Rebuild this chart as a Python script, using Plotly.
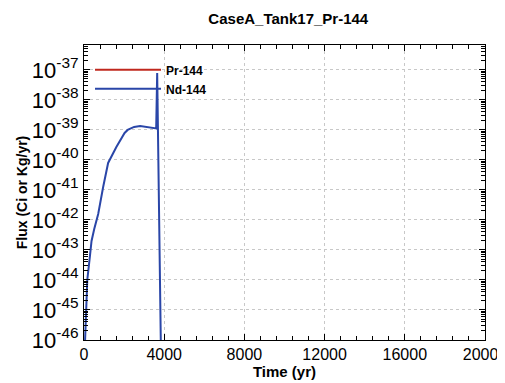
import plotly.graph_objects as go

title = "CaseA_Tank17_Pr-144"

# Nd-144 flux curve (time in yr, flux in Ci or Kg/yr)
nd_time = [0, 84, 163, 297, 376, 510, 708, 955, 1203, 1614, 2025, 2178, 2500, 2800, 3100, 3400, 3600, 3650, 3700, 3780, 3850]
nd_flux = [1e-47, 1e-45, 1e-44, 10**-43.2, 10**-42.7, 10**-42.3, 10**-41.8, 10**-40.9, 10**-40.1,
           10**-39.57, 10**-39.1, 10**-39.0, 10**-38.9, 10**-38.87, 10**-38.9, 10**-38.92, 10**-38.95,
           10**-37.1, 10**-39.5, 10**-43.5, 1e-47]

# Pr-144 is below the displayed range
pr_time = [0, 20000]
pr_flux = [1e-60, 1e-60]

xticks = [0, 4000, 8000, 12000, 16000, 20000]
y_decades = [-46, -45, -44, -43, -42, -41, -40, -39, -38, -37]
y_ticktext = ["10<sup>%d</sup>" % d for d in y_decades]

font = "Liberation Sans, Arial, sans-serif"

major_y = [10.0 ** d for d in y_decades]
minor_y = [m * 10.0 ** d for d in y_decades for m in range(2, 10)]

fig = go.Figure()
fig.add_trace(go.Scatter(x=pr_time, y=pr_flux, mode="lines", name="Pr-144",
                         line=dict(color="#c0281e", width=2)))
fig.add_trace(go.Scatter(x=nd_time, y=nd_flux, mode="lines", name="Nd-144",
                         line=dict(color="#2a46a8", width=2)))

fig.update_layout(
    width=505, height=383,
    margin=dict(l=76, r=28, t=37, b=51),
    paper_bgcolor="white", plot_bgcolor="white",
    title=dict(text="<b>" + title + "</b>", x=0.555, xanchor="center", y=0.973, yanchor="middle",
               font=dict(family=font, size=15, color="black")),
    font=dict(family=font, color="black"),
    showlegend=True,
    legend=dict(x=0.015, y=0.965, xanchor="left", yanchor="top", bgcolor="rgba(0,0,0,0)",
                font=dict(family=font, size=12, color="black", weight="bold"),
                tracegroupgap=0, itemwidth=66),
)

fig.update_xaxes(
    range=[0, 20000], tickvals=xticks, ticktext=[str(v) for v in xticks],
    ticks="inside", ticklen=6, tickcolor="black", tickwidth=1,
    minor=dict(dtick=800, ticks="inside", ticklen=4, tickcolor="black", tickwidth=1, showgrid=False),
    showline=True, linecolor="black", linewidth=1, mirror="ticks",
    showgrid=True, gridcolor="#c8c8c8", griddash="dot", gridwidth=1,
    zeroline=False, ticklabeloverflow="allow", automargin=False,
    tickfont=dict(family=font, size=16),
    title=dict(text="<b>Time (yr)</b>", font=dict(family=font, size=15), standoff=2),
)
fig.update_yaxes(
    type="log", range=[-46, -36.17], tickmode="array", tickvals=major_y, ticktext=y_ticktext,
    ticks="inside", ticklen=6, tickcolor="black", tickwidth=1,
    minor=dict(tickmode="array", tickvals=minor_y, ticks="inside", ticklen=4, tickcolor="black",
               tickwidth=1, showgrid=False),
    showline=True, linecolor="black", linewidth=1, mirror="ticks",
    showgrid=True, gridcolor="#c8c8c8", griddash="dot", gridwidth=1,
    zeroline=False, automargin=False, ticklabeloverflow="allow",
    tickfont=dict(family=font, size=22),
    title=dict(text="<b>Flux (Ci or Kg/yr)</b>", font=dict(family=font, size=14), standoff=0),
)

fig.write_html("out.html")
